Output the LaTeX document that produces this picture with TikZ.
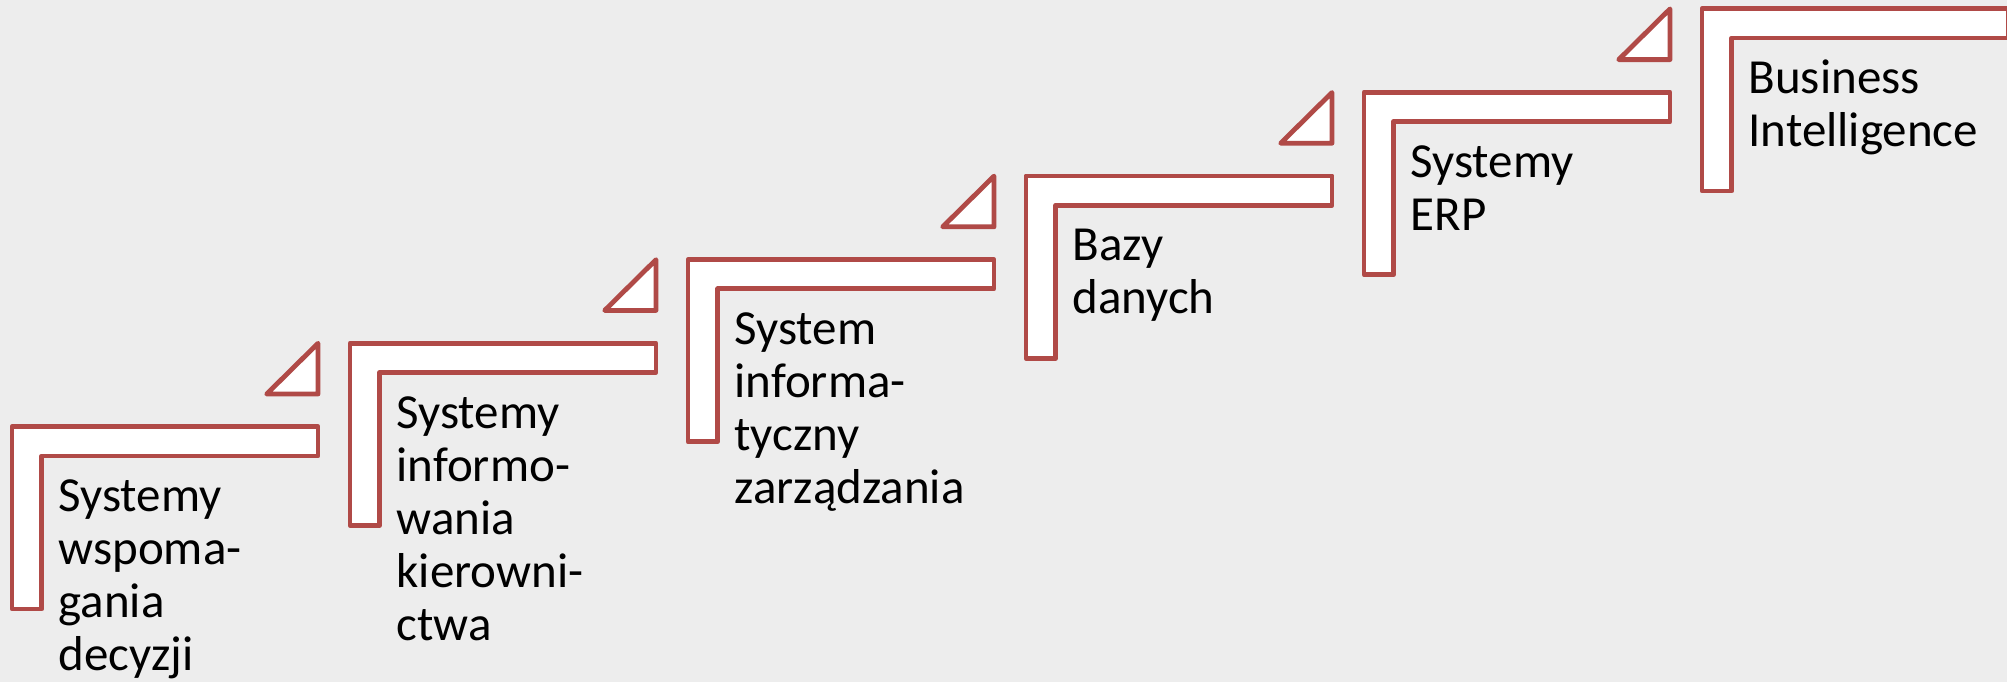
\documentclass[tikz,border=0pt]{standalone}
\usepackage{fontspec}
\setmainfont{Carlito}
\definecolor{stepred}{RGB}{176,74,71}
\definecolor{bgc}{RGB}{237,237,237}
\begin{document}
\begin{tikzpicture}[x=1pt,y=-1pt,
  stepshape/.style={draw=stepred, fill=white, line width=4.8pt, line join=round},
  steplabel/.style={anchor=base west, inner sep=0pt, align=left, font=\fontsize{49}{53}\selectfont}]
\useasboundingbox (0,0) rectangle (2007,681);
\fill[bgc] (-2,-2) rectangle (2009,683);
\foreach \i in {0,...,5} {
  \begin{scope}[shift={(338*\i,-83.6*\i)}]
    \draw[stepshape] (12,426.7) -- (318,426.7) -- (318,456) -- (41.7,456) -- (41.7,609) -- (12,609) -- cycle;
  \end{scope}
}
\foreach \i in {0,...,4} {
  \begin{scope}[shift={(338*\i,-83.6*\i)}]
    \draw[stepshape] (318,343.3) -- (318,394) -- (266.7,394) -- cycle;
  \end{scope}
}
% anchors at the baseline of the last line of each label
\node[steplabel] (t0) at (58.3,670.7) {Systemy\\wspoma-\\gania\\decyzji};
\node[steplabel] (t1) at (396.3,640.1) {Systemy\\informo-\\wania\\kierowni-\\ctwa};
\node[steplabel] (t2) at (734.3,503.5) {System\\informa-\\tyczny\\zarządzania};
\node[steplabel] (t3) at (1072.3,313.9) {Bazy\\danych};
\node[steplabel] (t4) at (1410.3,230.3) {Systemy\\ERP};
\node[steplabel] (t5) at (1748.3,146.7) {Business\\Intelligence};
\end{tikzpicture}
\end{document}
